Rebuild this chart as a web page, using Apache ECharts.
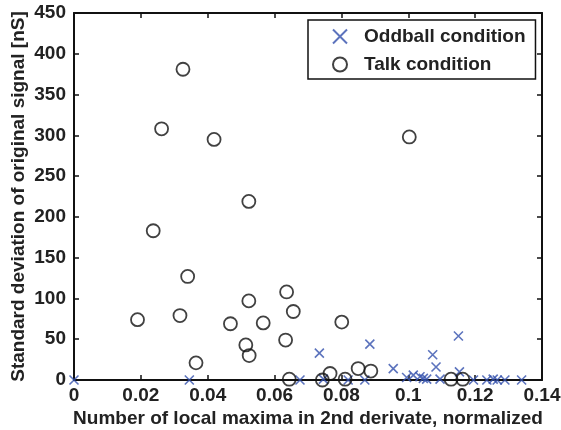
<!DOCTYPE html>
<html>
<head>
<meta charset="utf-8">
<script src="https://cdn.jsdelivr.net/npm/echarts@6/dist/echarts.min.js"></script>
<style>
  html, body { margin: 0; padding: 0; background: #fff; }
  #chart { width: 561px; height: 430px; }
</style>
</head>
<body>
<div id="chart"></div>
<script>
// values
const oddX = [0, 0.0345, 0.0676, 0.0734, 0.0746, 0.082, 0.087, 0.0885, 0.0955, 0.0995,
  0.1015, 0.1035, 0.1045, 0.1055, 0.1073, 0.1083, 0.1095, 0.115, 0.1153, 0.1195,
  0.1235, 0.1254, 0.1266, 0.1289, 0.1339];
const oddY = [0, 0, 0, 33, 1, 0, 0, 44, 14, 3,
  6, 4, 2, 1, 31, 16, 1, 54, 10, 0,
  0, 1, 0, 0, 0];

const talkX = [0.019, 0.0237, 0.0262, 0.0326, 0.0317, 0.034, 0.0365, 0.0419, 0.0468, 0.0514,
  0.0523, 0.0523, 0.0524, 0.0566, 0.0633, 0.0636, 0.0644, 0.0656, 0.0743, 0.0766,
  0.0801, 0.0811, 0.085, 0.0888, 0.1003, 0.1128, 0.1163];
const talkY = [74, 183, 308, 381, 79, 127, 21, 295, 69, 43,
  219, 97, 30, 70, 49, 108, 1, 84, 0, 8,
  71, 1, 14, 11, 298, 1, 1];

const FONT = 'Liberation Sans, Arial, sans-serif';
const crossPath = 'path://M0,0L10,10M10,0L0,10';

const chart = echarts.init(document.getElementById('chart'));

const pair = (xs, ys) => xs.map((x, i) => [x, ys[i]]);

const baseAxis = {
  min: 0,
  axisLine: { show: true, onZero: false, lineStyle: { color: '#111', width: 2 } },
  axisTick: { show: true, inside: true, length: 5, lineStyle: { color: '#111', width: 1.5 } },
  splitLine: { show: false }
};

chart.setOption({
  animation: false,
  backgroundColor: '#fff',
  grid: { left: 74, right: 19, top: 13, bottom: 50, outerBoundsMode: 'none' },
  legend: {
    left: 308, top: 20,
    orient: 'vertical',
    itemGap: 9,
    itemWidth: 14, itemHeight: 14,
    padding: [7, 10, 5, 24],
    borderColor: '#111', borderWidth: 1.5,
    backgroundColor: '#fff',
    textStyle: { fontFamily: FONT, fontWeight: 'bold', fontSize: 19, color: '#222', padding: [0, 0, 0, 12] },
    data: ['Oddball condition', 'Talk condition']
  },
  xAxis: [
    Object.assign({}, baseAxis, {
      type: 'value', max: 0.14, interval: 0.02, position: 'bottom',
      name: 'Number of local maxima in 2nd derivate, normalized',
      nameLocation: 'middle', nameGap: 29, nameMoveOverlap: false,
      nameTextStyle: { fontFamily: FONT, fontWeight: 'bold', fontSize: 19, color: '#222' },
      axisLabel: {
        fontFamily: FONT, fontWeight: 'bold', fontSize: 19, color: '#222', margin: 6,
        formatter: v => String(+v.toFixed(2))
      }
    }),
    Object.assign({}, baseAxis, {
      type: 'value', max: 0.14, interval: 0.02, position: 'top',
      axisLabel: { show: false }
    })
  ],
  yAxis: [
    Object.assign({}, baseAxis, {
      type: 'value', max: 450, interval: 50, position: 'left',
      name: 'Standard deviation of original signal [nS]',
      nameLocation: 'middle', nameGap: 46, nameMoveOverlap: false,
      nameTextStyle: { fontFamily: FONT, fontWeight: 'bold', fontSize: 19, color: '#222' },
      axisLabel: { fontFamily: FONT, fontWeight: 'bold', fontSize: 19, color: '#222', margin: 8 }
    }),
    Object.assign({}, baseAxis, {
      type: 'value', max: 450, interval: 50, position: 'right',
      axisLabel: { show: false }
    })
  ],
  series: [
    {
      name: 'Oddball condition',
      type: 'scatter',
      symbol: crossPath,
      symbolSize: 9,
      itemStyle: { color: 'transparent', borderColor: '#3350ad', borderWidth: 1.6 },
      data: pair(oddX, oddY)
    },
    {
      name: 'Talk condition',
      type: 'scatter',
      symbol: 'circle',
      symbolSize: 13,
      itemStyle: { color: 'transparent', borderColor: '#111', borderWidth: 1.8 },
      data: pair(talkX, talkY)
    }
  ]
});
</script>
</body>
</html>
